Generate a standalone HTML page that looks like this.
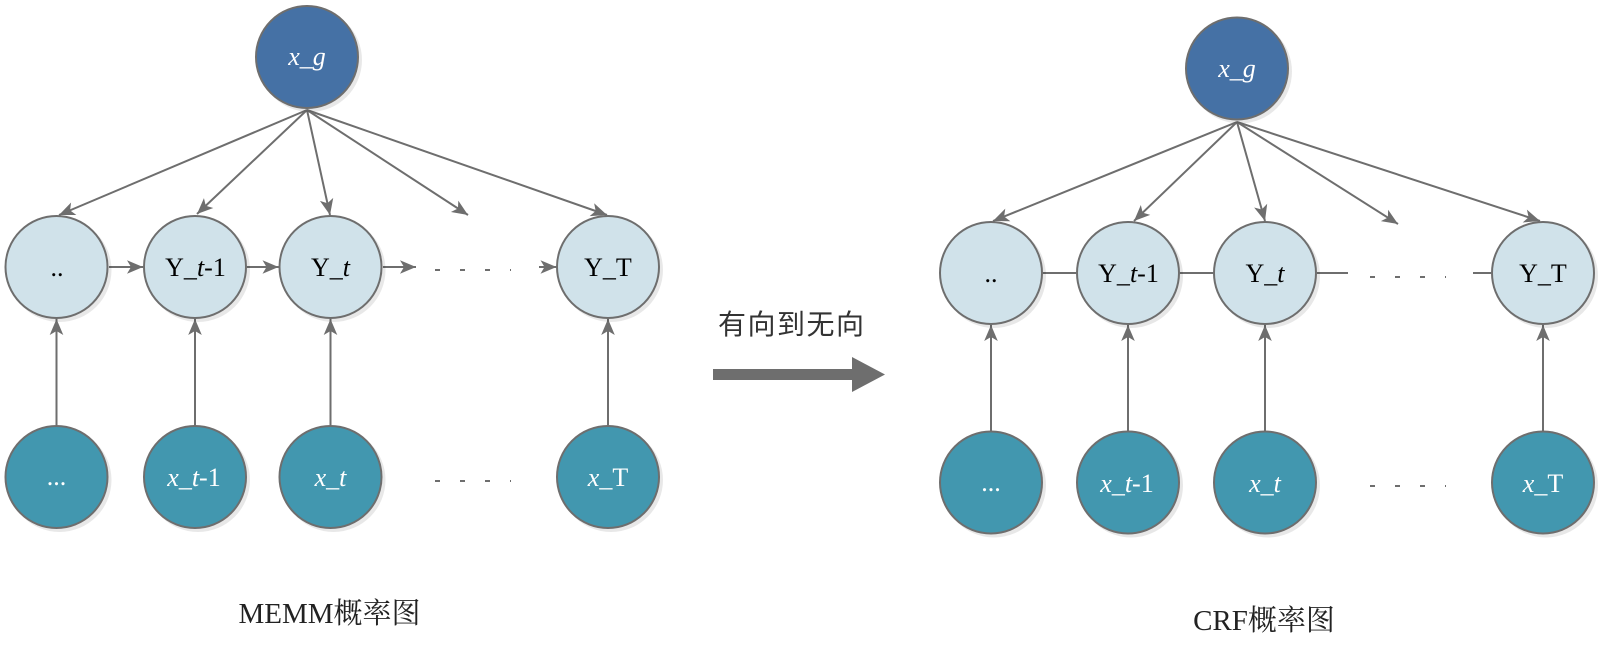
<!DOCTYPE html>
<html>
<head>
<meta charset="utf-8">
<style>
  html,body{margin:0;padding:0;background:#fff;}
  body{width:1600px;height:656px;overflow:hidden;}
  svg{display:block;}
  .ser{font-family:"Liberation Serif","Noto Serif CJK SC",serif;}
</style>
</head>
<body>
<svg width="1600" height="656" viewBox="0 0 1600 656" xmlns="http://www.w3.org/2000/svg">
  <defs>
    <marker id="ah" markerUnits="userSpaceOnUse" viewBox="-17 -8 18 16" markerWidth="18" markerHeight="16" refX="0" refY="0" orient="auto">
      <path d="M0,0 L-16,-6.8 L-12,0 L-16,6.8 Z" fill="#6e6e6e"/>
    </marker>
  </defs>

  <g stroke="#6e6e6e" stroke-width="2" fill="none">
    <!-- LEFT: x_g fan -->
    <line x1="307" y1="110" x2="59" y2="215" marker-end="url(#ah)"/>
    <line x1="307" y1="110" x2="197" y2="214" marker-end="url(#ah)"/>
    <line x1="307" y1="110" x2="330" y2="215" marker-end="url(#ah)"/>
    <line x1="307" y1="110" x2="468" y2="215" marker-end="url(#ah)"/>
    <line x1="307" y1="110" x2="607" y2="215" marker-end="url(#ah)"/>
    <!-- LEFT horizontal arrows -->
    <line x1="109" y1="267" x2="143" y2="267" marker-end="url(#ah)"/>
    <line x1="247" y1="267" x2="278.5" y2="267" marker-end="url(#ah)"/>
    <line x1="383" y1="267" x2="416" y2="267" marker-end="url(#ah)"/>
    <line x1="539" y1="267" x2="556.5" y2="267" marker-end="url(#ah)"/>
    <line x1="435" y1="270" x2="511" y2="270" stroke-dasharray="5 20"/>
    <line x1="435" y1="481" x2="511" y2="481" stroke-dasharray="5 20"/>
    <!-- LEFT vertical arrows -->
    <line x1="56.5" y1="425" x2="56.5" y2="319" marker-end="url(#ah)"/>
    <line x1="195" y1="425" x2="195" y2="319" marker-end="url(#ah)"/>
    <line x1="330.5" y1="425" x2="330.5" y2="319" marker-end="url(#ah)"/>
    <line x1="608" y1="425" x2="608" y2="319" marker-end="url(#ah)"/>

    <!-- RIGHT: x_g fan -->
    <line x1="1237" y1="122" x2="993" y2="221" marker-end="url(#ah)"/>
    <line x1="1237" y1="122" x2="1134" y2="221" marker-end="url(#ah)"/>
    <line x1="1237" y1="122" x2="1265" y2="221" marker-end="url(#ah)"/>
    <line x1="1237" y1="122" x2="1398" y2="224" marker-end="url(#ah)"/>
    <line x1="1237" y1="122" x2="1540" y2="221" marker-end="url(#ah)"/>
    <!-- RIGHT undirected edges -->
    <line x1="1043" y1="273" x2="1076" y2="273"/>
    <line x1="1180" y1="273" x2="1213" y2="273"/>
    <line x1="1317" y1="273" x2="1348" y2="273"/>
    <line x1="1473" y1="273" x2="1491" y2="273"/>
    <line x1="1370" y1="277" x2="1446" y2="277" stroke-dasharray="5 20"/>
    <line x1="1370" y1="486" x2="1446" y2="486" stroke-dasharray="5 20"/>
    <!-- RIGHT vertical arrows -->
    <line x1="991" y1="431" x2="991" y2="325" marker-end="url(#ah)"/>
    <line x1="1128" y1="431" x2="1128" y2="325" marker-end="url(#ah)"/>
    <line x1="1265" y1="431" x2="1265" y2="325" marker-end="url(#ah)"/>
    <line x1="1543" y1="431" x2="1543" y2="325" marker-end="url(#ah)"/>
  </g>

  <!-- shadows -->
  <g fill="#000" opacity="0.09">
    <circle cx="310" cy="60" r="52"/>
    <circle cx="59.5" cy="270" r="52"/><circle cx="198" cy="270" r="52"/><circle cx="333.5" cy="270" r="52"/><circle cx="611" cy="270" r="52"/>
    <circle cx="59.5" cy="480" r="52"/><circle cx="198" cy="480" r="52"/><circle cx="333.5" cy="480" r="52"/><circle cx="611" cy="480" r="52"/>
    <circle cx="1240" cy="71.5" r="52"/>
    <circle cx="994" cy="276" r="52"/><circle cx="1131" cy="276" r="52"/><circle cx="1268" cy="276" r="52"/><circle cx="1546" cy="276" r="52"/>
    <circle cx="994" cy="485.5" r="52"/><circle cx="1131" cy="485.5" r="52"/><circle cx="1268" cy="485.5" r="52"/><circle cx="1546" cy="485.5" r="52"/>
  </g>

  <!-- nodes -->
  <g stroke="#6e6e6e" stroke-width="2">
    <circle cx="307" cy="57" r="51" fill="#4571a5"/>
    <circle cx="56.5" cy="267" r="51" fill="#d0e2ea"/>
    <circle cx="195" cy="267" r="51" fill="#d0e2ea"/>
    <circle cx="330.5" cy="267" r="51" fill="#d0e2ea"/>
    <circle cx="608" cy="267" r="51" fill="#d0e2ea"/>
    <circle cx="56.5" cy="477" r="51" fill="#4297af"/>
    <circle cx="195" cy="477" r="51" fill="#4297af"/>
    <circle cx="330.5" cy="477" r="51" fill="#4297af"/>
    <circle cx="608" cy="477" r="51" fill="#4297af"/>

    <circle cx="1237" cy="68.5" r="51" fill="#4571a5"/>
    <circle cx="991" cy="273" r="51" fill="#d0e2ea"/>
    <circle cx="1128" cy="273" r="51" fill="#d0e2ea"/>
    <circle cx="1265" cy="273" r="51" fill="#d0e2ea"/>
    <circle cx="1543" cy="273" r="51" fill="#d0e2ea"/>
    <circle cx="991" cy="482.5" r="51" fill="#4297af"/>
    <circle cx="1128" cy="482.5" r="51" fill="#4297af"/>
    <circle cx="1265" cy="482.5" r="51" fill="#4297af"/>
    <circle cx="1543" cy="482.5" r="51" fill="#4297af"/>
  </g>

  <!-- labels -->
  <g class="ser" font-size="26" text-anchor="middle">
    <!-- left -->
    <text x="307" y="65" fill="#fff" font-style="italic">x_g</text>
    <text x="57" y="276" fill="#000">..</text>
    <text x="195.5" y="276" fill="#000">Y_<tspan font-style="italic">t</tspan>-1</text>
    <text x="330.5" y="276" fill="#000">Y_<tspan font-style="italic">t</tspan></text>
    <text x="608" y="276" fill="#000">Y_T</text>
    <text x="56.5" y="485" fill="#fff">...</text>
    <text x="194" y="486" fill="#fff"><tspan font-style="italic">x</tspan>_<tspan font-style="italic">t</tspan>-1</text>
    <text x="330.5" y="486" fill="#fff"><tspan font-style="italic">x</tspan>_<tspan font-style="italic">t</tspan></text>
    <text x="608" y="486" fill="#fff"><tspan font-style="italic">x</tspan>_T</text>
    <!-- right -->
    <text x="1237" y="77" fill="#fff" font-style="italic">x_g</text>
    <text x="991" y="282" fill="#000">..</text>
    <text x="1128.5" y="282" fill="#000">Y_<tspan font-style="italic">t</tspan>-1</text>
    <text x="1265" y="282" fill="#000">Y_<tspan font-style="italic">t</tspan></text>
    <text x="1543" y="282" fill="#000">Y_T</text>
    <text x="991" y="491" fill="#fff">...</text>
    <text x="1127" y="492" fill="#fff"><tspan font-style="italic">x</tspan>_<tspan font-style="italic">t</tspan>-1</text>
    <text x="1265" y="492" fill="#fff"><tspan font-style="italic">x</tspan>_<tspan font-style="italic">t</tspan></text>
    <text x="1543" y="492" fill="#fff"><tspan font-style="italic">x</tspan>_T</text>
  </g>

  <!-- middle transform arrow -->
  <rect x="713" y="369" width="141" height="11" fill="#6e6e6e"/>
  <polygon points="852,357 885,374.5 852,392" fill="#6e6e6e"/>
  <text x="718" y="334" font-family="'Liberation Sans','Noto Sans CJK SC',sans-serif" font-size="28" letter-spacing="1.5" fill="#333">有向到无向</text>

  <!-- captions -->
  <text class="ser" x="329.5" y="623" font-size="29" text-anchor="middle" fill="#222">MEMM概率图</text>
  <text class="ser" x="1264" y="630" font-size="29" text-anchor="middle" fill="#222">CRF概率图</text>
</svg>
</body>
</html>
